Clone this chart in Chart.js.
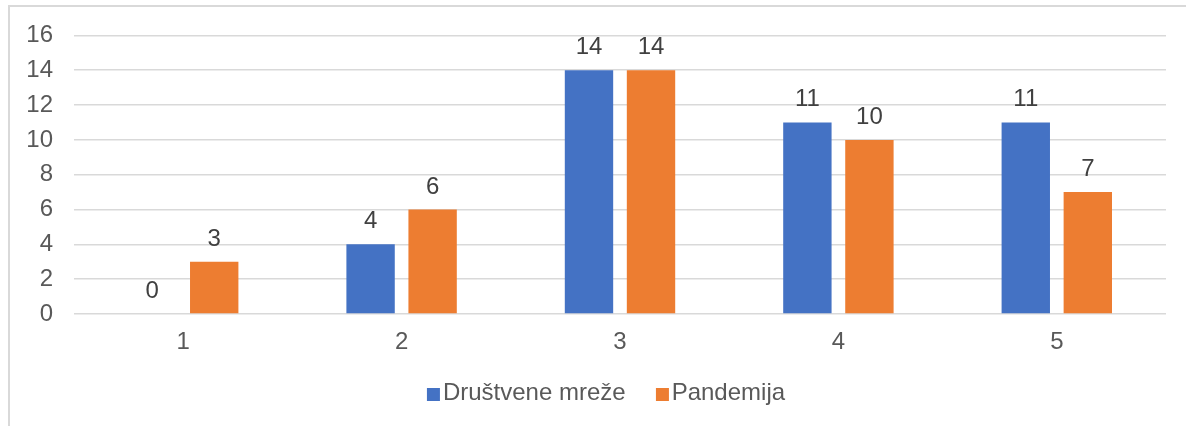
<!DOCTYPE html>
<html>
<head>
<meta charset="utf-8">
<script src="https://cdn.jsdelivr.net/npm/chart.js@4"></script>
<style>
  html, body { margin: 0; padding: 0; background: #fff; overflow: hidden; }
  #wrap { position: relative; width: 1186px; height: 426px; }
  #frame {
    position: absolute; left: 8px; top: 5px; width: 2000px; height: 2000px;
    border: 2px solid #d9d9d9; box-sizing: border-box;
  }
  #chart { position: absolute; left: 0; top: 0; }
  #legend {
    position: absolute; left: 606px; top: 380px; transform: translateX(-50%);
    display: flex; align-items: center; white-space: nowrap;
    font-family: "Liberation Sans", Arial, sans-serif; font-size: 24px;
    line-height: 24px; color: #595959;
  }
  #legend .item { display: flex; align-items: center; margin: 0 15px; }
  #legend .box { width: 13px; height: 13px; margin-right: 3px; position: relative; top: 2px; }
</style>
</head>
<body>
<div id="wrap">
  <div id="frame"></div>
  <canvas id="chart" width="1186" height="426"></canvas>
  <div id="legend"></div>
</div>
<script>
// ---------------------------------------------
// Data
// ---------------------------------------------
const categories = ["1", "2", "3", "4", "5"];
const seriesNames = ["Društvene mreže", "Pandemija"];
const drustveneMreze = [0, 4, 14, 11, 11];
const pandemija = [3, 6, 14, 10, 7];
const seriesColors = ["#4472C4", "#ED7D31"];

const FONT = "'Liberation Sans', Arial, sans-serif";

// ---------------------------------------------
// Value labels above bars
// ---------------------------------------------
const valueLabels = {
    id: "valueLabels",
    afterDatasetsDraw(chart) {
        const ctx = chart.ctx;
        ctx.save();
        ctx.font = "24px " + FONT;
        ctx.fillStyle = "#404040";
        ctx.textAlign = "center";
        ctx.textBaseline = "alphabetic";
        chart.data.datasets.forEach((ds, i) => {
            chart.getDatasetMeta(i).data.forEach((bar, j) => {
                ctx.fillText(String(ds.data[j]), bar.x, bar.y - 16);
            });
        });
        ctx.restore();
    }
};

// ---------------------------------------------
// Chart
// ---------------------------------------------
const ctx = document.getElementById("chart");
const chart = new Chart(ctx, {
    type: "bar",
    data: {
        labels: categories,
        datasets: [
            { label: seriesNames[0], data: drustveneMreze, backgroundColor: seriesColors[0] },
            { label: seriesNames[1], data: pandemija, backgroundColor: seriesColors[1] }
        ]
    },
    options: {
        responsive: false,
        animation: false,
        categoryPercentage: 0.568,
        barPercentage: 0.78,
        layout: { padding: { left: 0, right: 20, top: 35, bottom: 55 } },
        plugins: {
            legend: { display: false },
            tooltip: { enabled: false }
        },
        scales: {
            x: {
                grid: { display: false, drawTicks: false },
                border: { display: false },
                ticks: { color: "#595959", font: { family: FONT, size: 24 }, padding: 14 },
                afterFit: s => { s.height = 57; }
            },
            y: {
                min: 0,
                max: 16,
                grid: { color: "#d9d9d9", lineWidth: 1.5, drawTicks: false },
                border: { display: false },
                ticks: { stepSize: 2, color: "#595959", font: { family: FONT, size: 24 }, padding: 21 },
                afterFit: s => { s.width = 74; }
            }
        }
    },
    plugins: [valueLabels]
});

// ---------------------------------------------
// Legend
// ---------------------------------------------
const legend = document.getElementById("legend");
seriesNames.forEach((name, i) => {
    legend.innerHTML += `<div class="item"><span class="box" style="background:${seriesColors[i]}"></span>${name}</div>`;
});
</script>
</body>
</html>
